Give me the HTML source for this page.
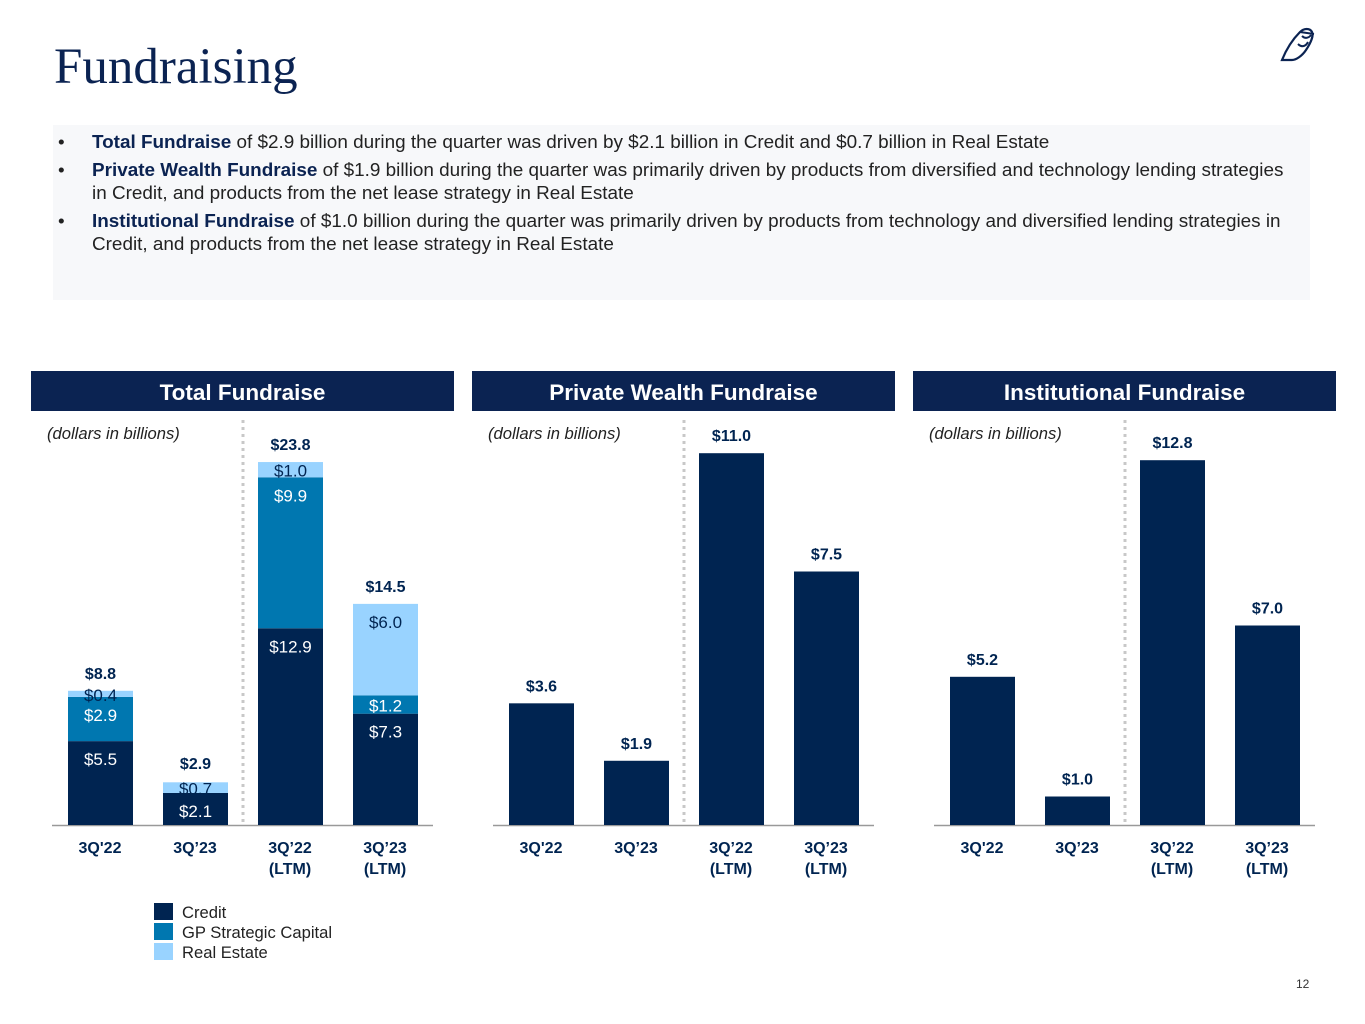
<!DOCTYPE html>
<html><head><meta charset="utf-8">
<style>
body{margin:0;width:1365px;height:1024px;background:#fff;overflow:hidden;position:relative;font-family:"Liberation Sans",Arial,sans-serif}
.title{position:absolute;left:54px;top:38px;font-family:"Liberation Serif",serif;font-size:51px;color:#0b2352;}
.panel{position:absolute;left:53px;top:125px;width:1257px;height:175px;background:#f7f8fa}
.panel ul{margin:0;padding:0;list-style:none}
.panel li{position:relative;padding-left:39px;padding-right:10px;font-size:18.9px;line-height:23px;color:#222;margin-top:5px}
.panel li:before{content:"•";position:absolute;left:5px;top:0;color:#222}
.panel b{color:#0b2352}
.hdr{position:absolute;top:371px;height:40px;background:#0b2352;color:#fff;font-weight:bold;font-size:22.5px;text-align:center;line-height:43px}
</style></head><body>
<div class="title">Fundraising</div>
<svg style="position:absolute;left:1278px;top:22px" width="40" height="42" viewBox="0 0 40 42">
<path d="M4 38 C8 28 14 18 22 10 C26 6 32 6 34 10 C36 14 32 22 28 28 C24 34 18 38 14 38 Z" fill="none" stroke="#0b2352" stroke-width="2.2"/>
<path d="M22 10 L36 12 M24 14 C27 17 31 16 33 13 M20 22 C24 26 28 24 30 20" fill="none" stroke="#0b2352" stroke-width="2"/>
</svg>
<div class="panel">
<ul style="margin-top:6px">
<li><b>Total Fundraise</b> of $2.9 billion during the quarter was driven by $2.1 billion in Credit and $0.7 billion in Real Estate</li>
<li><b>Private Wealth Fundraise</b> of $1.9 billion during the quarter was primarily driven by products from diversified and technology lending strategies in Credit, and products from the net lease strategy in Real Estate</li>
<li><b>Institutional Fundraise</b> of $1.0 billion during the quarter was primarily driven by products from technology and diversified lending strategies in Credit, and products from the net lease strategy in Real Estate</li>
</ul></div>
<div class="hdr" style="left:31px;width:423px">Total Fundraise</div>
<div class="hdr" style="left:472px;width:423px">Private Wealth Fundraise</div>
<div class="hdr" style="left:913px;width:423px">Institutional Fundraise</div>
<svg id="ch" width="1365" height="1024" style="position:absolute;left:0;top:0"></svg>
<div style="position:absolute;left:1296px;top:977px;font-size:12px;color:#333">12</div>
<script>
const categories=["3Q'22","3Q’23","3Q’22\n(LTM)","3Q’23\n(LTM)"];
const creditVals=[5.5,2.1,12.9,7.3];
const gpVals=[2.9,0,9.9,1.2];
const reVals=[0.4,0.7,1.0,6.0];
const totalVals=[8.8,2.9,23.8,14.5];
const pwVals=[3.6,1.9,11.0,7.5];
const instVals=[5.2,1.0,12.8,7.0];
const NS="http://www.w3.org/2000/svg";
const svg=document.getElementById('ch');
const NAVY="#002451",MID="#0077b0",LIGHT="#99d3ff";
function mk(t,a,p){const e=document.createElementNS(NS,t);for(const k in a)e.setAttribute(k,a[k]);(p||svg).appendChild(e);return e;}
const base=825;
function txt(x,y,s,opt){const e=mk('text',{x:x,y:y,'text-anchor':'middle','font-size':opt.size||16,fill:opt.fill||NAVY,'font-weight':opt.bold?'bold':'normal','font-family':'Liberation Sans, Arial, sans-serif'});e.textContent=s;return e;}
function frame(x0,name){
  const it=mk('text',{x:x0+16,y:439,'font-size':16.6,'font-style':'italic',fill:'#222'});it.textContent='(dollars in billions)';
  
  
  const sep=mk('line',{x1:x0+212,x2:x0+212,y1:420,y2:822,stroke:'#c8c8c8','stroke-width':3,'stroke-dasharray':'3 4'});
  
  
  const ax=mk('line',{x1:x0+21,x2:x0+402,y1:base+0.5,y2:base+0.5,stroke:'#999','stroke-width':1.5});
  
  
  categories.forEach((c,i)=>{
    const cx=x0+69+i*95;
    c.split('\n').forEach((ln,j)=>{const t=txt(cx,853+j*21,ln,{bold:true});
      
      });
  });
}
function simple(x0,vals,scale,name){
  frame(x0,name);
  vals.forEach((v,i)=>{
    const x=x0+37+i*95,h=v*scale;
    const r=mk('rect',{x:x,y:base-h,width:65,height:h,fill:NAVY});
    
    
    const t=txt(x+32.5,base-h-12,'$'+v.toFixed(1),{bold:true});
    
    
  });
}
(function(){
  const x0=31,scale=15.25;
  frame(x0,'total');
  categories.forEach((c,i)=>{
    const x=x0+37+i*95;let y=base;
    [[creditVals[i],NAVY,'#fff','credit'],[gpVals[i],MID,'#fff','gp'],[reVals[i],LIGHT,NAVY,'real-estate']].forEach(s=>{
      if(s[0]<=0)return;
      const h=s[0]*scale;y-=h;
      const r=mk('rect',{x:x,y:y,width:65,height:h,fill:s[1]});
      
      
      const ty=h<30?y+h/2+7:y+24;
      const t=txt(x+32.5,ty,'$'+s[0].toFixed(1),{fill:s[2],size:17});
      
      
    });
    const t=txt(x+32.5,base-totalVals[i]*scale-12,'$'+totalVals[i].toFixed(1),{bold:true});
    
    
  });
  [['Credit',NAVY],['GP Strategic Capital',MID],['Real Estate',LIGHT]].forEach((l,i)=>{
    const g=mk('g',{});
    
    
    mk('rect',{x:154,y:903+i*20,width:19,height:17,fill:l[1]},g);
    const t=mk('text',{x:182,y:918+i*20,'font-size':16.6,fill:'#222'},g);t.textContent=l[0];
  });
})();
simple(472,pwVals,33.8,'private-wealth');
simple(913,instVals,28.5,'institutional');
</script>
</body></html>
